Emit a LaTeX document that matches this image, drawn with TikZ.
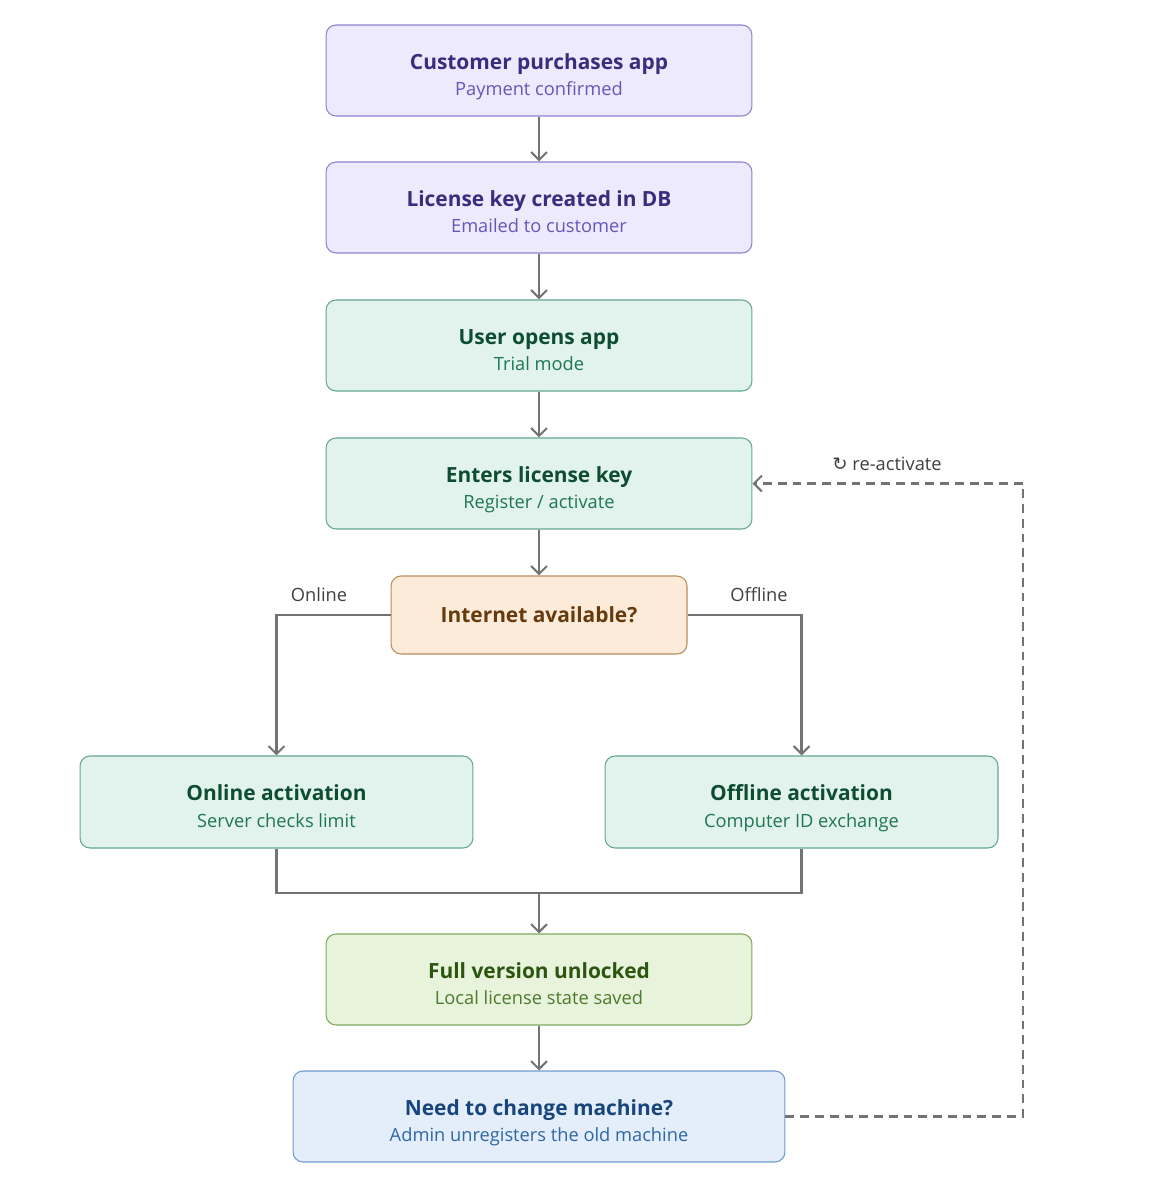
\documentclass[tikz,border=0pt]{standalone}
\usepackage{fontspec}
\setmainfont{Open Sans}
\newfontfamily\symbfont{DejaVu Sans}
\usepackage{tikz}
\usetikzlibrary{
  arrows.meta,
  positioning
}

\definecolor{purpfill}{HTML}{ECEAFC}
\definecolor{purpline}{HTML}{8C82CF}
\definecolor{purptitle}{HTML}{3A2D7E}
\definecolor{purpsub}{HTML}{6657B8}
\definecolor{tealfill}{HTML}{E1F3EC}
\definecolor{tealline}{HTML}{63A88B}
\definecolor{tealtitle}{HTML}{0E4D33}
\definecolor{tealsub}{HTML}{1F7653}
\definecolor{sandfill}{HTML}{FBEBD8}
\definecolor{sandline}{HTML}{B98C5C}
\definecolor{sandtitle}{HTML}{673A0E}
\definecolor{limefill}{HTML}{E8F3DC}
\definecolor{limeline}{HTML}{7EA95E}
\definecolor{limetitle}{HTML}{2C5510}
\definecolor{limesub}{HTML}{4D7A2B}
\definecolor{skyfill}{HTML}{E3EEFA}
\definecolor{skyline}{HTML}{6C9BCF}
\definecolor{skytitle}{HTML}{17457C}
\definecolor{skysub}{HTML}{2E67A6}
\definecolor{flowgray}{HTML}{737373}

\newcommand{\boxlines}[4]{%
  {\color{#1}\fontsize{11.9}{15}\selectfont\bfseries\rule{0pt}{16.5pt}#3}\\[3.2pt]%
  {\color{#2}\fontsize{10.4}{13}\selectfont\rule[-3pt]{0pt}{3pt}#4}}

\begin{document}
\begin{tikzpicture}[x=0.02cm,y=-0.02cm,
  stagebox/.style={rectangle, rounded corners=0.2cm, line width=0.6pt,
    minimum width=8.52cm, minimum height=1.82cm, align=center},
  purp/.style={stagebox, fill=purpfill, draw=purpline},
  teal/.style={stagebox, fill=tealfill, draw=tealline},
  lime/.style={stagebox, fill=limefill, draw=limeline},
  sky/.style={stagebox, fill=skyfill, draw=skyline, minimum width=9.84cm},
  half/.style={teal, minimum width=7.86cm, minimum height=1.84cm},
  ask/.style={stagebox, fill=sandfill, draw=sandline,
    minimum width=5.92cm, minimum height=1.56cm},
  flow/.style={draw=flowgray, line width=1.4pt,
    -{Straight Barb[length=4.5pt,width=9pt,line width=1.2pt]}},
  back/.style={flow, dashed, dash pattern=on 5pt off 3.4pt, line width=1.25pt},
  side/.style={text=black!75, font=\fontsize{10.4}{13}\selectfont}
]
  \useasboundingbox (0,0) rectangle (1155,1200);

  \node[purp] (buy) at (539,70.5)
    {\boxlines{purptitle}{purpsub}{Customer purchases app}{Payment confirmed}};
  \node[purp] (key) at (539,207.5)
    {\boxlines{purptitle}{purpsub}{License key created in DB}{Emailed to customer}};
  \node[teal] (open) at (539,345.5)
    {\boxlines{tealtitle}{tealsub}{User opens app}{Trial mode}};
  \node[teal] (enter) at (539,483.5)
    {\boxlines{tealtitle}{tealsub}{Enters license key}{Register / activate}};
  \node[ask] (net) at (539,615)
    {\color{sandtitle}\fontsize{11.9}{15}\selectfont\bfseries Internet available?};
  \node[half] (online) at (276.5,802)
    {\boxlines{tealtitle}{tealsub}{Online activation}{Server checks limit}};
  \node[half] (offline) at (801.5,802)
    {\boxlines{tealtitle}{tealsub}{Offline activation}{Computer ID exchange}};
  \node[lime] (full) at (539,979.5)
    {\boxlines{limetitle}{limesub}{Full version unlocked}{Local license state saved}};
  \node[sky] (move) at (539,1116.5)
    {\boxlines{skytitle}{skysub}{Need to change machine?}{Admin unregisters the old machine}};

  \coordinate (join) at (539,893);
  \coordinate (turn) at (1023,1116.5);

  \draw[flow] (buy) -- (key);
  \draw[flow] (key) -- (open);
  \draw[flow] (open) -- (enter);
  \draw[flow] (enter) -- (net);
  \draw[flow] (net.west) -| (online.north);
  \draw[flow] (net.east) -| (offline.north);
  \draw[draw=flowgray, line width=1.4pt] (online.south) |- (join) -| (offline.south);
  \draw[flow] (join) -- (full);
  \draw[flow] (full) -- (move);
  \draw[back] (move.east) -- (turn) |- (enter.east);

  \node[side] (onlab) at (319,595) {Online};
  \node[side] (offlab) at (759,595) {Offline};
  \node[side] (relab) at (887,464) {{\symbfont\fontsize{10.4}{12}\selectfont ↻} re-activate};
\end{tikzpicture}
\end{document}
